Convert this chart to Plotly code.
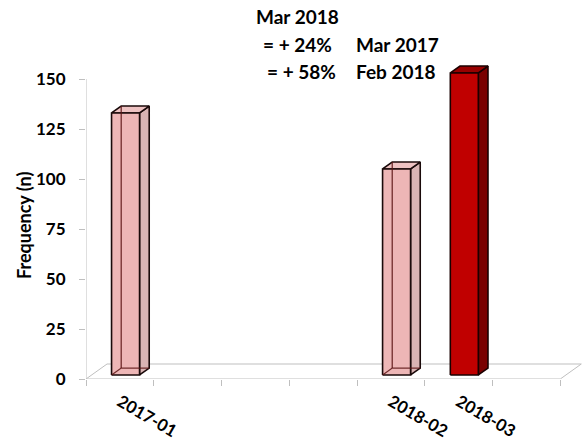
import plotly.graph_objects as go

# ---------------- data ----------------
categories = ["2017-01", "", "", "", "2018-02", "2018-03", ""]
values = [131, None, None, None, 103, 151, None]
highlight = "2018-03"
y_ticks = [0, 25, 50, 75, 100, 125, 150]
title_lines = ["Mar 2018", "= + 24%", "Mar 2017", "= + 58%", "Feb 2018"]
y_title = "Frequency (n)"

# ---------------- styling / geometry ----------------
W, H = 584, 445
ML, MR, MT, MB = 86, 0, 59, 66
XR = [-0.5, 6.85]
YR = [0, 160]
pxx = (W - ML - MR) / (XR[1] - XR[0])   # px per x unit
pxy = (H - MT - MB) / (YR[1] - YR[0])   # px per y unit

floor_dx = 21 / pxx     # full floor depth, x
floor_dy = 15 / pxy     # full floor depth, y
f1, f2 = 0.27, 0.73     # bar depth fractions
bar_w = 28 / pxx

FONT = "Lato"
AX = "#BFBFBF"

pink = dict(front="#EDB6B6", side="#D9B3B3", top="#EEC2C2", edge="#1a0a0a", hidden="rgba(90,20,20,0.85)")
red = dict(front="#C00000", side="#7A0000", top="#980000", edge="#1a0000", hidden=None)

fig = go.Figure()

# floor
n = len(categories)
fx = [-0.5, n - 0.5, n - 0.5 + floor_dx, -0.5 + floor_dx, -0.5]
fy = [0, 0, floor_dy, floor_dy, 0]
fig.add_trace(go.Scatter(x=fx, y=fy, mode="lines", line=dict(color=AX, width=1),
                         hoverinfo="skip", showlegend=False))
# y axis line
fig.add_trace(go.Scatter(x=[-0.5, -0.5], y=[0, y_ticks[-1]], mode="lines",
                         line=dict(color=AX, width=1), hoverinfo="skip", showlegend=False))


def poly(xs, ys, fill, edge, width=1.6):
    fig.add_trace(go.Scatter(x=xs + [xs[0]], y=ys + [ys[0]], mode="lines", fill="toself",
                             fillcolor=fill, line=dict(color=edge, width=width),
                             hoverinfo="skip", showlegend=False))


def seg(xs, ys, color, width=1.4):
    fig.add_trace(go.Scatter(x=xs, y=ys, mode="lines", line=dict(color=color, width=width),
                             hoverinfo="skip", showlegend=False))


ddx = (f2 - f1) * floor_dx
ddy = (f2 - f1) * floor_dy
for i, (cat, v) in enumerate(zip(categories, values)):
    if v is None:
        continue
    st = red if cat == highlight else pink
    cx = i + f1 * floor_dx
    b = f1 * floor_dy
    x0, x1 = cx - bar_w / 2, cx + bar_w / 2
    t = b + v
    # side
    poly([x1, x1 + ddx, x1 + ddx, x1], [b, b + ddy, t + ddy, t], st["side"], st["edge"])
    # top
    poly([x0, x1, x1 + ddx, x0 + ddx], [t, t, t + ddy, t + ddy], st["top"], st["edge"])
    # front
    poly([x0, x1, x1, x0], [b, b, t, t], st["front"], st["edge"])
    if st["hidden"]:
        seg([x0 + ddx, x0 + ddx], [b + ddy, t + ddy], st["hidden"], 1.3)
        seg([x0, x0 + ddx, x1 + ddx], [b, b + ddy, b + ddy], st["hidden"], 1.3)

# ---------------- axes ----------------
fig.update_xaxes(range=XR, showgrid=False, zeroline=False, showline=False, automargin=False,
                 tickmode="array", tickvals=[i for i, c in enumerate(categories) if c],
                 ticktext=[c for c in categories if c], ticks="", tickangle=30,
                 ticklabelstandoff=9,
                 tickfont=dict(family=FONT, size=17, color="#000", weight="bold"),
                 minor=dict(tickmode="array", tickvals=[k - 0.5 for k in range(n + 1)],
                            ticks="outside", ticklen=6, tickcolor=AX, tickwidth=1))
fig.update_yaxes(range=YR, showgrid=False, zeroline=False, showline=False, automargin=False,
                 tickmode="array", tickvals=y_ticks, ticks="outside", ticklen=6,
                 tickcolor=AX, tickwidth=1, ticklabelstandoff=10,
                 tickfont=dict(family=FONT, size=17, color="#000", weight="bold"))


def px2paper(px, py):
    # window pixel -> paper coords
    return (px - ML) / (W - ML - MR), (H - MB - py) / (H - MT - MB)


ann = []
tf = dict(family=FONT, size=19, color="#000", weight="bold")
for text, px, py, xa in [
    (title_lines[0], 297, 17, "center"),
    (title_lines[1], 334, 44, "right"),
    (title_lines[2], 354, 44, "left"),
    (title_lines[3], 338, 71, "right"),
    (title_lines[4], 354, 71, "left"),
]:
    x, y = px2paper(px, py)
    ann.append(dict(text=text, x=x, y=y, xref="paper", yref="paper", xanchor=xa,
                    yanchor="middle", showarrow=False, font=tf))
x, y = px2paper(24, 226)
ann.append(dict(text=y_title, x=x, y=y, xref="paper", yref="paper", textangle=-90,
                xanchor="center", yanchor="middle", showarrow=False,
                font=dict(family=FONT, size=18, color="#000", weight="bold")))

fig.update_layout(width=W, height=H, margin=dict(l=ML, r=MR, t=MT, b=MB),
                  plot_bgcolor="white", paper_bgcolor="white", annotations=ann,
                  showlegend=False)

fig.write_html("out.html", config={"displayModeBar": False},
               post_script="document.body.style.margin='0px';document.body.style.overflow='hidden';")
